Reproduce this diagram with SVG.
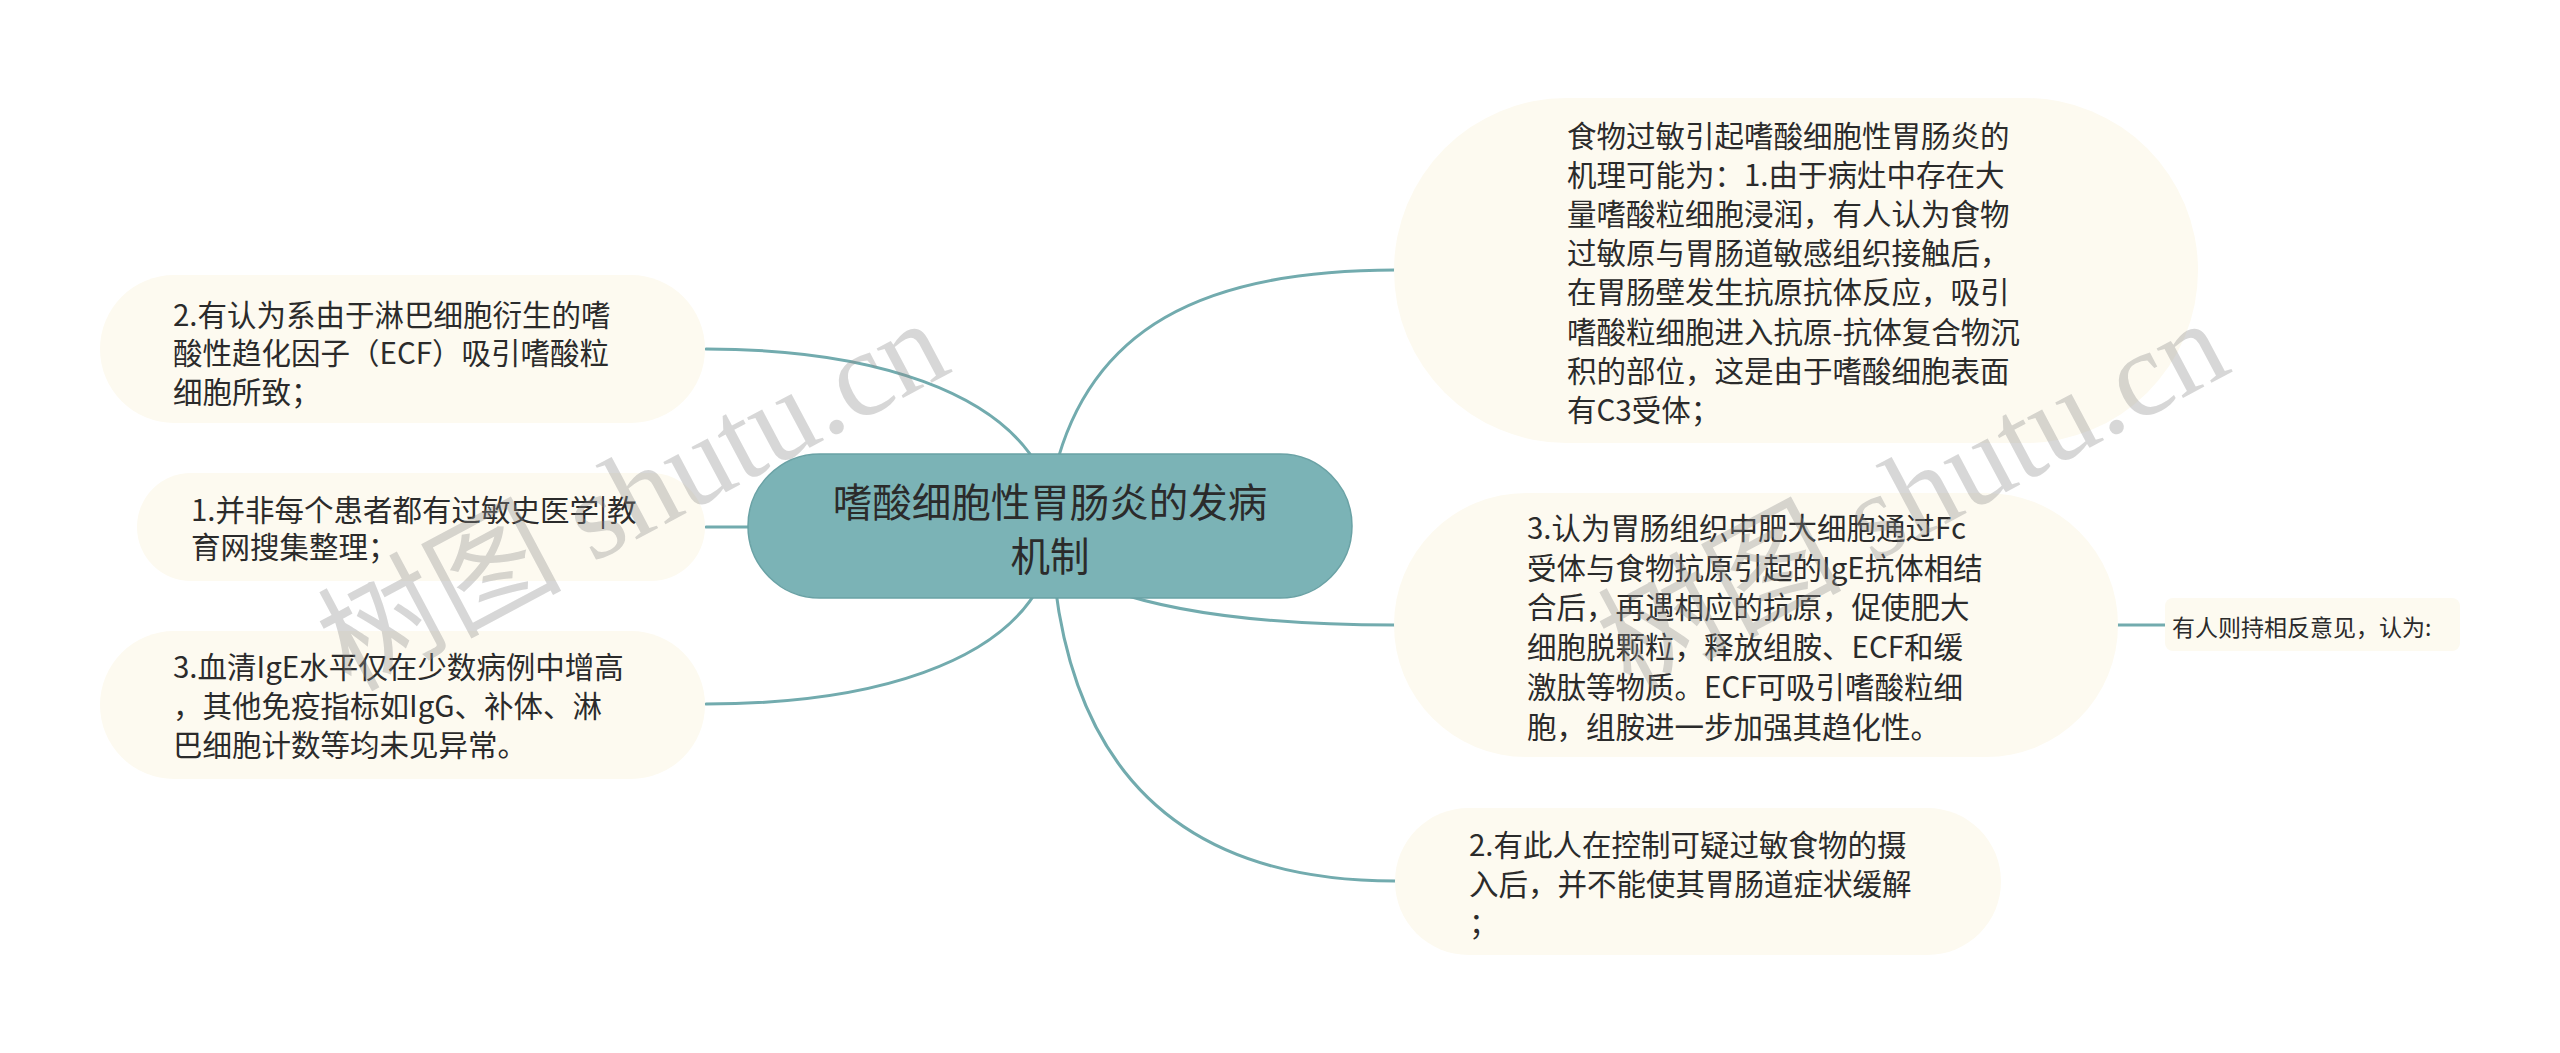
<svg xmlns="http://www.w3.org/2000/svg" width="2560" height="1053" viewBox="0 0 2560 1053">
<style>
.bg{fill:#ffffff}
.leaf{fill:#fdfaf0}
.root{fill:#7bb3b6;stroke:#6aa2a5;stroke-width:1.5}
.t{font-family:"Noto Sans CJK SC","Noto Sans",sans-serif;font-size:29.5px;fill:#2b2b2b}
.tr{font-family:"Noto Sans CJK SC","Noto Sans",sans-serif;font-size:39.5px;fill:#2b2b2b;text-anchor:middle}
.ts{font-family:"Noto Sans CJK SC","Noto Sans",sans-serif;font-size:23px;fill:#2b2b2b}
.c{fill:none;stroke:#72abae;stroke-width:3;stroke-linecap:round}
.wm{font-family:"Liberation Serif","Noto Sans CJK SC",serif;font-size:122px;fill:#8a8a8a;fill-opacity:0.34}
</style>
<rect class="bg" x="0" y="0" width="2560" height="1053"/>
<g id="connectors">
<path class="c" d="M706 349 C880 349 1000 395 1040 470"/>
<path class="c" d="M706 527 L752 527"/>
<path class="c" d="M706 704 C880 704 1000 660 1040 585"/>
<path class="c" d="M1395 270 C1200 270 1090 330 1055 470"/>
<path class="c" d="M1395 625 C1280 625 1180 615 1110 590"/>
<path class="c" d="M1395 881 C1200 881 1080 790 1055 585"/>
<path class="c" d="M2118 625 L2166 625"/>
</g>
<g id="node-root">
<rect class="root" x="748" y="454" width="604" height="144" rx="72"/>
<text class="tr" x="1050" y="517">嗜酸细胞性胃肠炎的发病</text>
<text class="tr" x="1050" y="571">机制</text>
</g>
<g id="node-l1">
<rect class="leaf" x="100" y="275" width="605" height="148" rx="74"/>
<text class="t" x="173" y="326">2.有认为系由于淋巴细胞衍生的嗜</text>
<text class="t" x="173" y="364">酸性趋化因子（ECF）吸引嗜酸粒</text>
<text class="t" x="173" y="403">细胞所致；</text>
</g>
<g id="node-l2">
<rect class="leaf" x="137" y="473" width="568" height="108" rx="54"/>
<text class="t" x="191" y="521">1.并非每个患者都有过敏史医学|教</text>
<text class="t" x="191" y="558">育网搜集整理；</text>
</g>
<g id="node-l3">
<rect class="leaf" x="100" y="631" width="605" height="148" rx="74"/>
<text class="t" x="173" y="678">3.血清IgE水平仅在少数病例中增高</text>
<text class="t" x="173" y="717">，其他免疫指标如IgG、补体、淋</text>
<text class="t" x="173" y="756">巴细胞计数等均未见异常。</text>
</g>
<g id="node-r1">
<rect class="leaf" x="1394" y="98" width="804" height="345" rx="172.5"/>
<text class="t" x="1567" y="147">食物过敏引起嗜酸细胞性胃肠炎的</text>
<text class="t" x="1567" y="186">机理可能为：1.由于病灶中存在大</text>
<text class="t" x="1567" y="225">量嗜酸粒细胞浸润，有人认为食物</text>
<text class="t" x="1567" y="264">过敏原与胃肠道敏感组织接触后，</text>
<text class="t" x="1567" y="303">在胃肠壁发生抗原抗体反应，吸引</text>
<text class="t" x="1567" y="343">嗜酸粒细胞进入抗原-抗体复合物沉</text>
<text class="t" x="1567" y="382">积的部位，这是由于嗜酸细胞表面</text>
<text class="t" x="1567" y="421">有C3受体；</text>
</g>
<g id="node-r2">
<rect class="leaf" x="1394" y="493" width="724" height="264" rx="132"/>
<text class="t" x="1527" y="539">3.认为胃肠组织中肥大细胞通过Fc</text>
<text class="t" x="1527" y="579">受体与食物抗原引起的IgE抗体相结</text>
<text class="t" x="1527" y="618">合后，再遇相应的抗原，促使肥大</text>
<text class="t" x="1527" y="658">细胞脱颗粒，释放组胺、ECF和缓</text>
<text class="t" x="1527" y="698">激肽等物质。ECF可吸引嗜酸粒细</text>
<text class="t" x="1527" y="738">胞，组胺进一步加强其趋化性。</text>
</g>
<g id="node-r3">
<rect class="leaf" x="1395" y="808" width="606" height="147" rx="73.5"/>
<text class="t" x="1469" y="856">2.有此人在控制可疑过敏食物的摄</text>
<text class="t" x="1469" y="895">入后，并不能使其胃肠道症状缓解</text>
<text class="t" x="1469" y="934">；</text>
</g>
<g id="node-r2-sub">
<rect class="leaf" x="2165" y="598" width="295" height="53" rx="8"/>
<text class="ts" x="2172" y="636">有人则持相反意见，认为:</text>
</g>
<g id="watermark">
<text class="wm" transform="translate(350 692) rotate(-28)">树图 shutu.cn</text>
<text class="wm" transform="translate(1630 692) rotate(-28)">树图 shutu.cn</text>
</g>
</svg>
